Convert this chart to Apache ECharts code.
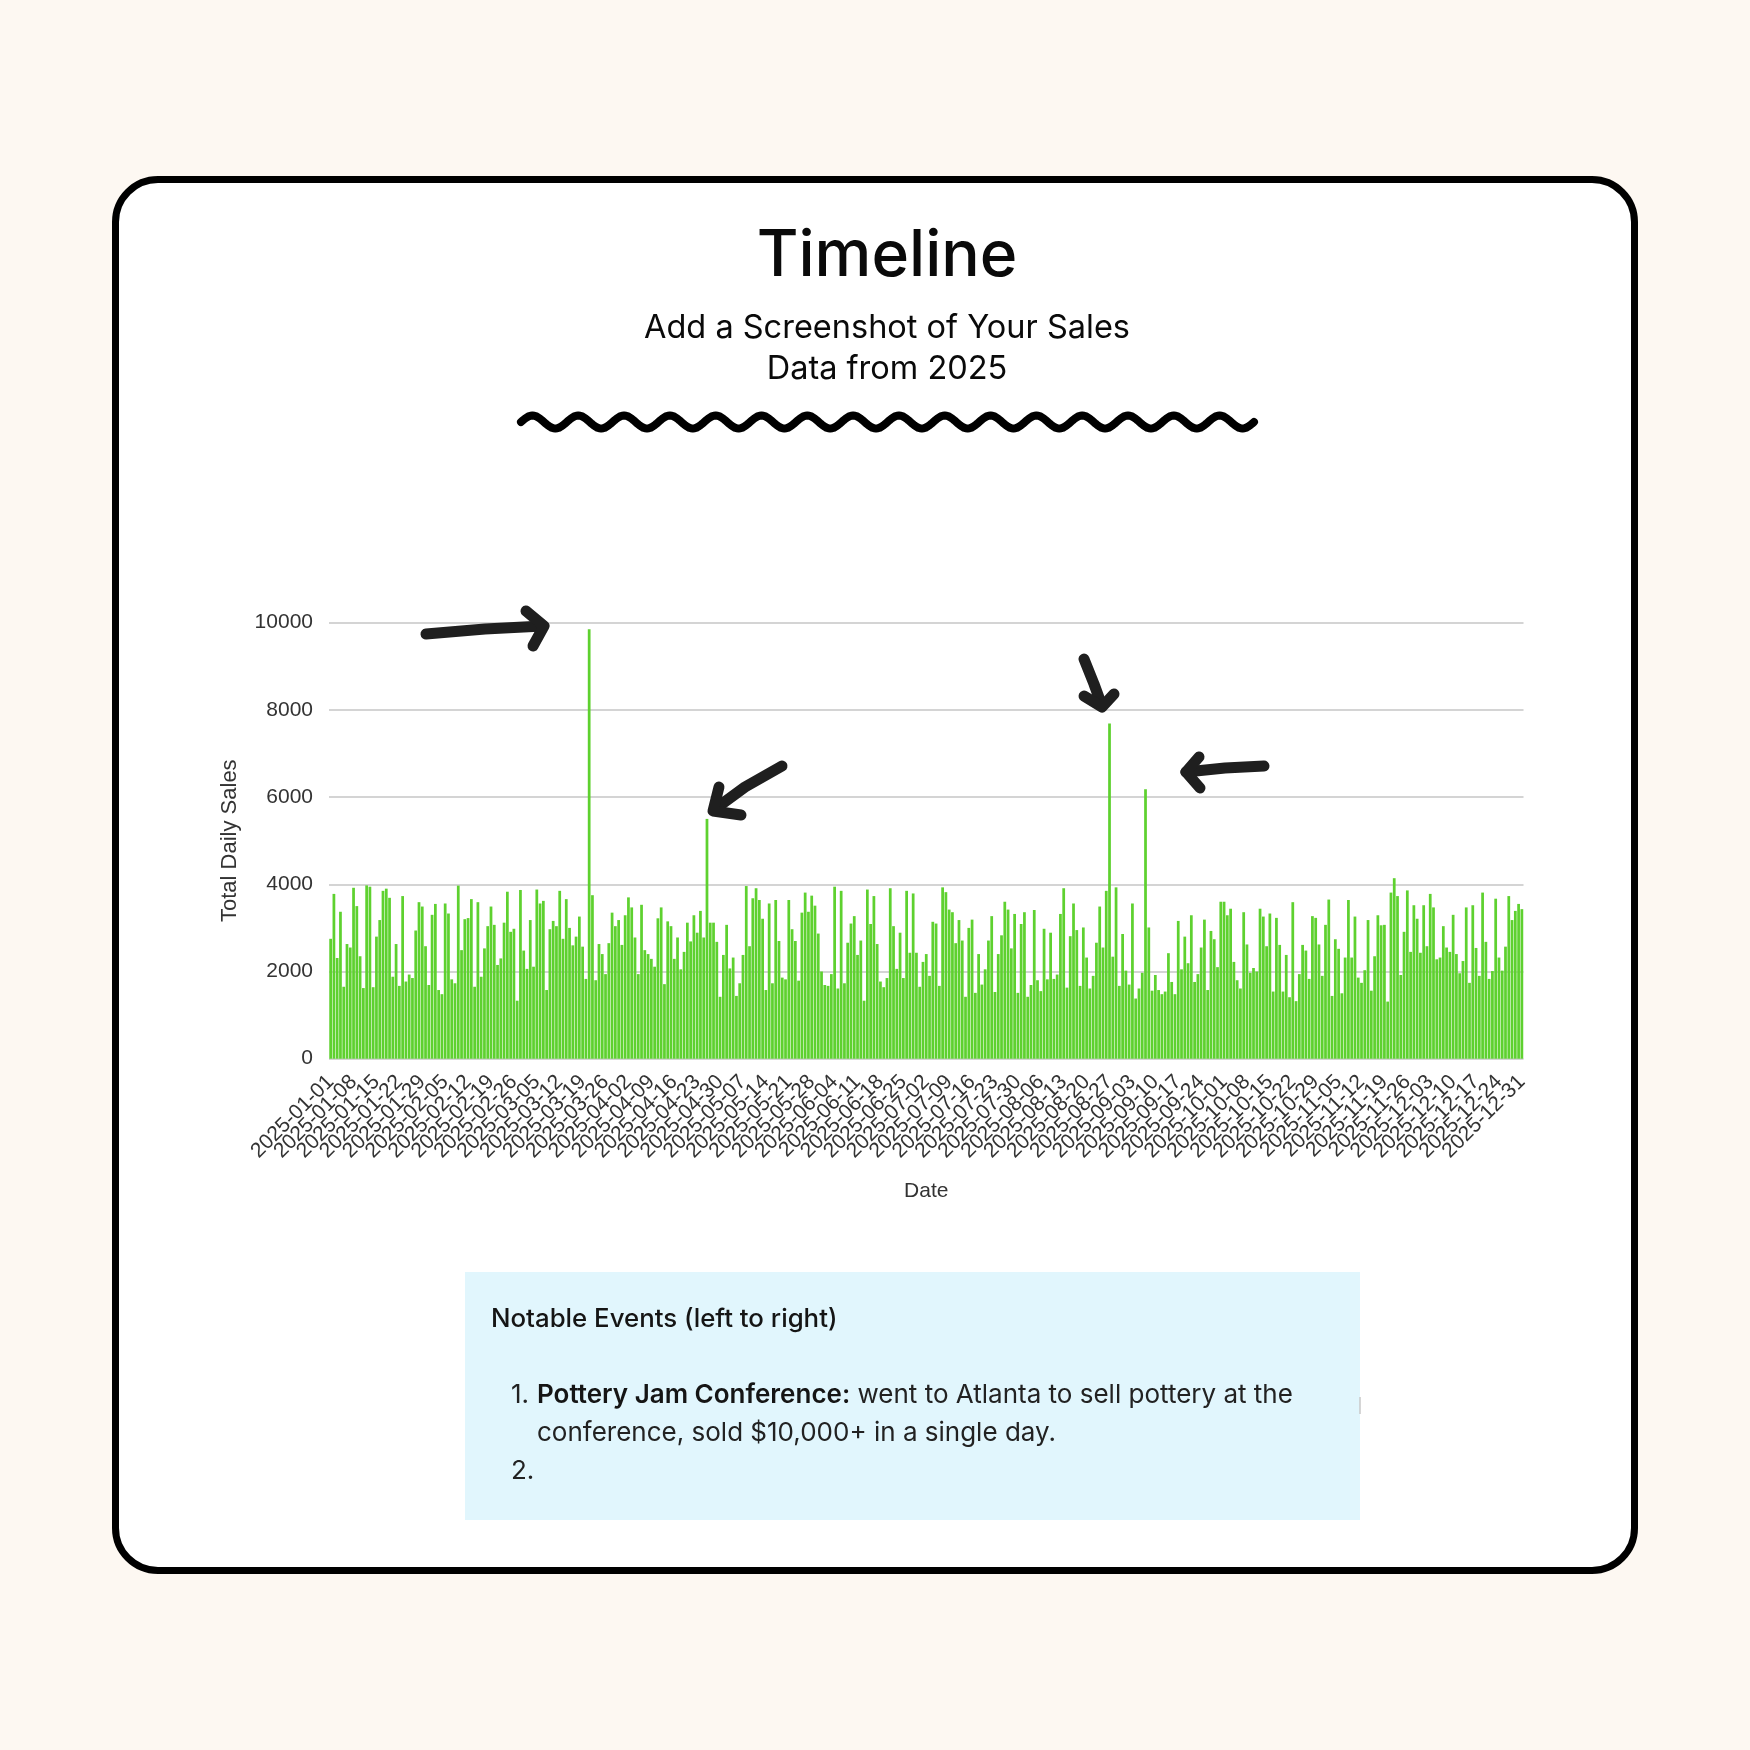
<!DOCTYPE html>
<html>
<head>
<meta charset="utf-8">
<script src="https://cdn.jsdelivr.net/npm/echarts@6/dist/echarts.min.js"></script>
<style>
  html, body { margin: 0; padding: 0; background: #fdf8f2; }
  #card { position: absolute; left: 112px; top: 176px; width: 1526px; height: 1398px;
          box-sizing: border-box; border: 7px solid #000; border-radius: 46px; background: #fff; }
  #chart { position: absolute; left: 0; top: 0; width: 1750px; height: 1750px; }
</style>
</head>
<body>
<div id="card"></div>
<div id="chart"></div>
<script>
// ---- Data ----
const salesQ1 = [
  2750,3780,2310,3370,1650,2630,2550,3920,3500,2350,
  1620,3975,3945,1640,2800,3180,3850,3900,3690,1880,
  2630,1670,3730,1770,1930,1850,2940,3590,3490,2580,
  1690,3300,3550,1575,1480,3560,3330,1820,1730,3970,
  2490,3200,3225,3660,1650,3590,1880,2530,3040,3490,
  3070,2150,2300,3120,3830,2910,2980,1330,3870,2480,
  2060,3180,2110,3880,3560,3620,1575,2970,3160,3040,
  3850,2750,3660,3000,2600,2800,3260,2570,1830,9850,
  3750,1800,2630,2400,1940,2650,3350,3040,3180,2610
];
const salesQ2 = [
  3290,3700,3470,2780,1940,3530,2490,2400,2290,2110,
  3220,3470,1710,3150,3040,2290,2780,2050,2450,3120,
  2690,3290,2890,3390,2780,5500,3120,3120,2680,1420,
  2380,3070,2070,2320,1440,1730,2380,3960,2580,3680,
  3910,3640,3210,1575,3560,1730,3640,2700,1860,1820,
  3640,2970,2700,1790,3350,3810,3370,3740,3510,2870,
  2000,1690,1670,1940,3945,1610,3850,1730,2660,3100,
  3270,2380,2710,1330,3880,3090,3730,2630,1770,1640,
  1850,3910,3040,2060,2890,1850,3850,2430,3790,2430,
  1650
];
const salesQ3 = [
  2220,2400,1900,3140,3100,1670,3930,3820,3420,3360,
  2650,3180,2710,1420,3000,3190,1510,2400,1700,2050,
  2710,3270,1530,2400,2830,3600,3420,2530,3320,1510,
  3090,3360,1420,1690,3410,1800,1550,2980,1820,2890,
  1830,1930,3320,3910,1630,2810,3560,2950,1670,3010,
  2320,1610,1900,2660,3490,2550,3850,7690,2340,3930,
  1670,2860,2020,1700,3560,1380,1610,1970,6180,3010,
  1560,1920,1575,1480,1540,2420,1760,1480,3160,2050,
  2800,2190,3290,1760,1940,2550,3190,1575,2930,2740,
  2100,3600
];
const salesQ4 = [
  3600,3290,3440,2220,1800,1610,3360,2620,1970,2080,
  2000,3440,3260,2580,3330,1540,3230,2610,1540,2380,
  1410,3590,1320,1940,2610,2480,1830,3270,3230,2620,
  1900,3070,3650,1440,2740,2520,1500,2320,3640,2320,
  3260,1860,1740,2030,3180,1560,2350,3290,3060,3070,
  1310,3810,4140,3730,1920,2910,3860,2450,3520,3210,
  2430,3520,2580,3780,3470,2280,2320,3040,2550,2450,
  3300,2400,1960,2240,3470,1740,3520,2540,1900,3810,
  2680,1830,2010,3670,2320,2020,2570,3730,3180,3390,
  3550,3430
];
const yTicks = [0, 2000, 4000, 6000, 8000, 10000];
const startDate = '2025-01-01';
const labelEveryDays = 7;

const sales = salesQ1.concat(salesQ2, salesQ3, salesQ4);
const dates = [];
(function () {
  const t0 = Date.parse(startDate + 'T00:00:00Z');
  for (let i = 0; i < sales.length; i++) {
    dates.push(new Date(t0 + i * 86400000).toISOString().slice(0, 10));
  }
})();

// ---- decorations ----
function wavePoints(x0, x1, yc, amp, periods) {
  const pts = [];
  const n = periods * 24;
  for (let i = 0; i <= n; i++) {
    const x = x0 + (x1 - x0) * i / n;
    pts.push([x, yc - amp * Math.sin(2 * Math.PI * periods * i / n)]);
  }
  return pts;
}
const arrowStyle = { stroke: '#1f1f1f', lineWidth: 11, lineCap: 'round', lineJoin: 'round', fill: null };
function arrow(shaft, head) {
  return [
    { type: 'polyline', shape: { points: shaft }, style: arrowStyle, z: 100 },
    { type: 'polyline', shape: { points: head }, style: arrowStyle, z: 100 }
  ];
}

const FONT = 'Inter, "Noto Sans", sans-serif';
const AXFONT = '"Liberation Sans", Arial, sans-serif';

// labels are split between two overlapping bottom axes (even / odd weeks)
// so ECharts' min/max overlap logic never drops any of them
function dateAxis(parity, withName) {
  return {
    type: 'category',
    data: dates,
    position: 'bottom',
    offset: 0,
    gridIndex: 0,
    axisTick: { show: false },
    axisLine: { show: false },
    splitLine: { show: false },
    axisLabel: {
      interval: function (idx) {
        return idx % labelEveryDays === 0 && (idx / labelEveryDays) % 2 === parity;
      },
      rotate: 45, fontSize: 21, color: '#333', margin: 20, fontFamily: AXFONT,
      showMinLabel: true, showMaxLabel: true, hideOverlap: false
    },
    name: withName ? 'Date' : '',
    nameLocation: 'middle',
    nameGap: 122,
    nameTextStyle: { fontSize: 21, color: '#333', fontFamily: AXFONT }
  };
}

const chart = echarts.init(document.getElementById('chart'), null, { renderer: 'canvas' });
chart.setOption({
  backgroundColor: 'transparent',
  animation: false,
  grid: { left: 329, right: 226.5, top: 622.7, bottom: 691.3, containLabel: false },
  xAxis: [dateAxis(0, true), dateAxis(1, false)],
  yAxis: {
    type: 'value',
    min: yTicks[0],
    max: yTicks[yTicks.length - 1],
    interval: yTicks[1] - yTicks[0],
    axisLine: { show: false },
    axisTick: { show: false },
    axisLabel: { fontSize: 21, color: '#333', margin: 16, fontFamily: AXFONT,
                 formatter: function (v) { return String(v); } },
    splitLine: { lineStyle: { color: '#d4d4d4', width: 2 } },
    name: 'Total Daily Sales',
    nameLocation: 'middle',
    nameGap: 88,
    nameRotate: 90,
    nameTextStyle: { fontSize: 22, color: '#333', fontFamily: AXFONT }
  },
  series: [{
    type: 'bar',
    xAxisIndex: 0,
    data: sales,
    barCategoryGap: '16%',
    itemStyle: { color: '#5ed12f' }
  }],
  graphic: [
    { type: 'text', style: { text: 'Timeline', x: 887, y: 257, align: 'center', verticalAlign: 'middle',
      font: '500 64px ' + FONT, fill: '#0a0a0a' }, z: 100 },
    { type: 'text', style: { text: 'Add a Screenshot of Your Sales', x: 887, y: 328, align: 'center', verticalAlign: 'middle',
      font: '400 32.5px ' + FONT, fill: '#0a0a0a' }, z: 100 },
    { type: 'text', style: { text: 'Data from 2025', x: 887, y: 369, align: 'center', verticalAlign: 'middle',
      font: '400 32.5px ' + FONT, fill: '#0a0a0a' }, z: 100 },
    { type: 'polyline', shape: { points: wavePoints(521, 1254, 422, 6.5, 16), smooth: 0 },
      style: { stroke: '#000', lineWidth: 8, lineCap: 'round', lineJoin: 'round', fill: null }, z: 100 },
    ...arrow([[426, 634], [485, 629], [543, 626]], [[526, 611], [544, 626], [533, 646]]),
    ...arrow([[782, 766], [745, 787], [715, 809]], [[719, 787], [713, 811], [741, 815]]),
    ...arrow([[1084, 659], [1094, 684], [1102, 706]], [[1084, 696], [1102, 707], [1114, 694]]),
    ...arrow([[1264, 766], [1225, 768], [1186, 772]], [[1199, 757], [1186, 772], [1200, 788]]),
    { type: 'rect', shape: { x: 465, y: 1272, width: 895, height: 248 }, style: { fill: '#e1f6fd' }, z: 50 },
    { type: 'text', style: { text: 'Notable Events (left to right)', x: 491, y: 1319, verticalAlign: 'middle',
      font: '500 25.8px ' + FONT, fill: '#151515' }, z: 100 },
    { type: 'text', style: { text: '1.', x: 511, y: 1395, verticalAlign: 'middle', font: '400 26px ' + FONT, fill: '#222' }, z: 100 },
    { type: 'text', style: {
      text: '{b|Pottery Jam Conference:} went to Atlanta to sell pottery at the',
      x: 537, y: 1395, verticalAlign: 'middle', font: '400 26px ' + FONT, fill: '#222',
      rich: { b: { font: '600 26px ' + FONT, fill: '#151515' } } }, z: 100 },
    { type: 'text', style: { text: 'conference, sold $10,000+ in a single day.', x: 537, y: 1433, verticalAlign: 'middle',
      font: '400 26px ' + FONT, fill: '#222' }, z: 100 },
    { type: 'text', style: { text: '2.', x: 511, y: 1471, verticalAlign: 'middle', font: '400 26px ' + FONT, fill: '#222' }, z: 100 },
    { type: 'line', shape: { x1: 1360, y1: 1397, x2: 1360, y2: 1414 }, style: { stroke: '#c8c8c8', lineWidth: 1.5 }, z: 100 }
  ]
});
</script>
</body>
</html>
